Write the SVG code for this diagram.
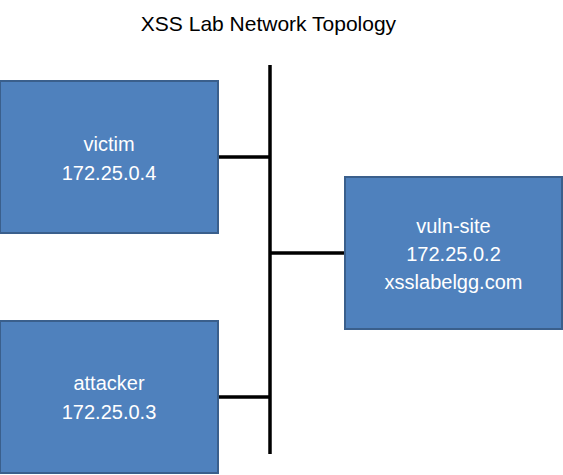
<svg xmlns="http://www.w3.org/2000/svg" width="563" height="475" viewBox="0 0 563 475">
<style>
.box{fill:#4F81BD;stroke:#3A5F8C;stroke-width:2}
.lbl{font-family:"Liberation Sans",Arial,sans-serif;font-size:20px;fill:#FFFFFF;text-anchor:middle}
.title{font-family:"Liberation Sans",Arial,sans-serif;font-size:21px;fill:#000000;text-anchor:middle}
.wire{stroke:#000000;stroke-width:3.5;fill:none}
</style>
<rect width="563" height="475" fill="#FFFFFF"/>
<text class="title" x="268.5" y="31">XSS Lab Network Topology</text>
<g id="connectors">
<line class="wire" x1="270" y1="65" x2="270" y2="454"/>
<line class="wire" x1="218" y1="157" x2="270" y2="157"/>
<line class="wire" x1="270" y1="253" x2="345" y2="253"/>
<line class="wire" x1="218" y1="397" x2="270" y2="397"/>
</g>
<g id="victim">
<rect class="box" x="0" y="81" width="218" height="152"/>
<text class="lbl" x="109" y="151">victim</text>
<text class="lbl" x="109" y="180">172.25.0.4</text>
</g>
<g id="vuln-site">
<rect class="box" x="345" y="177" width="217" height="152"/>
<text class="lbl" x="453.5" y="233">vuln-site</text>
<text class="lbl" x="453.5" y="261">172.25.0.2</text>
<text class="lbl" x="453.5" y="289">xsslabelgg.com</text>
</g>
<g id="attacker">
<rect class="box" x="0" y="321" width="218" height="152"/>
<text class="lbl" x="109" y="390">attacker</text>
<text class="lbl" x="109" y="419">172.25.0.3</text>
</g>
</svg>
